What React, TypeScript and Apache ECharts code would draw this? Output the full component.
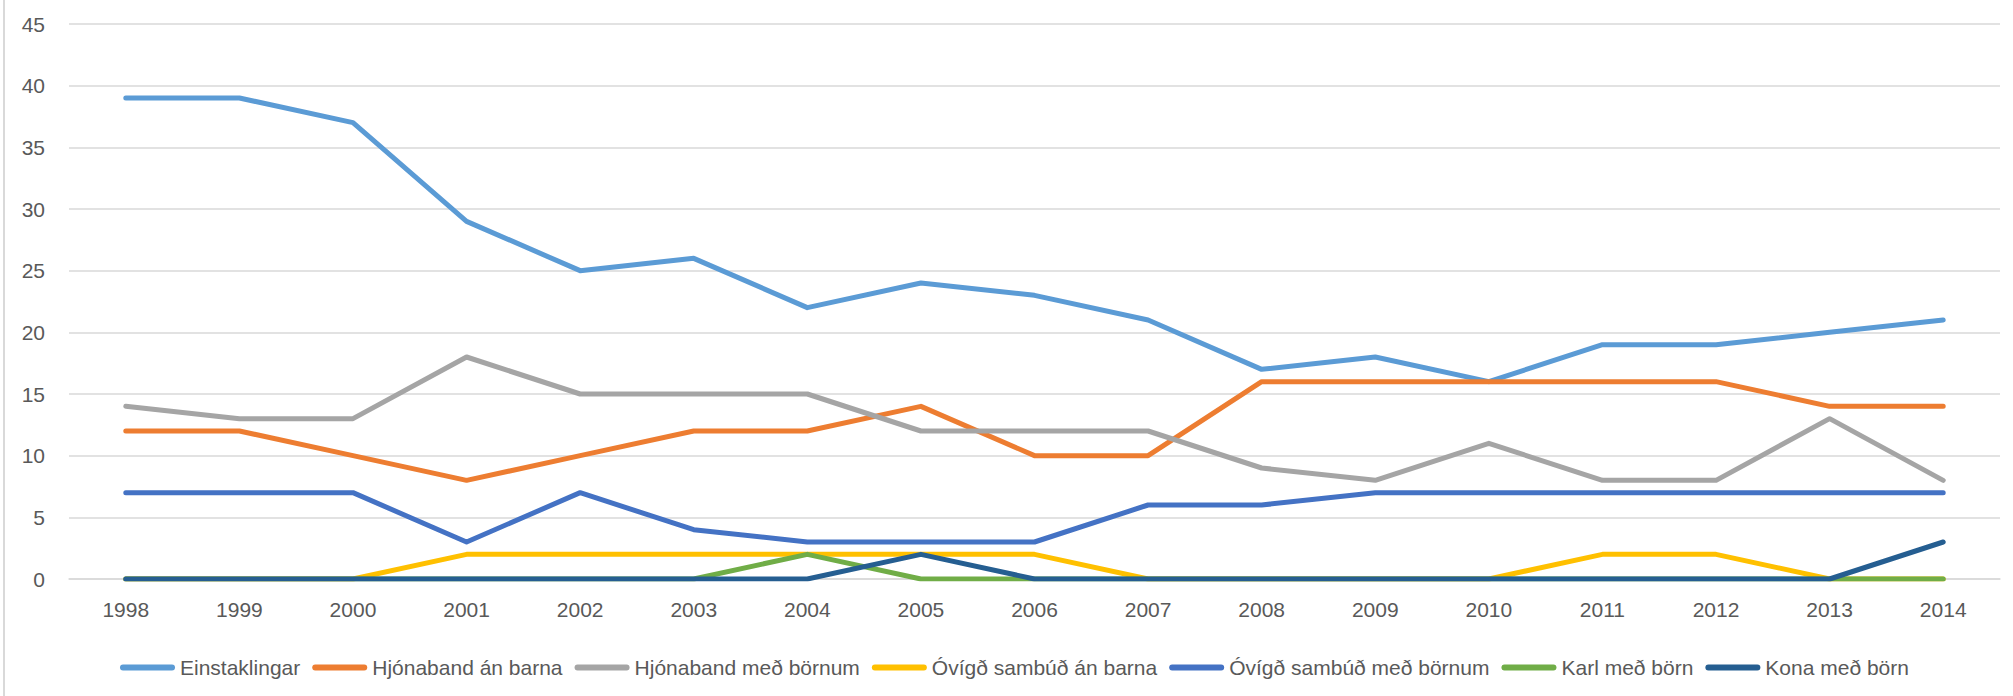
import React, { useEffect, useRef } from "react";
import * as echarts from "echarts";

const years = ["1998","1999","2000","2001","2002","2003","2004","2005","2006","2007","2008","2009","2010","2011","2012","2013","2014"];
const einstaklingar = [39,39,37,29,25,26,22,24,23,21,17,18,16,19,19,20,21];
const hjonabandAnBarna = [12,12,10,8,10,12,12,14,10,10,16,16,16,16,16,14,14];
const hjonabandMedBornum = [14,13,13,18,15,15,15,12,12,12,9,8,11,8,8,13,8];
const ovigdAnBarna = [0,0,0,2,2,2,2,2,2,0,0,0,0,2,2,0,0];
const ovigdMedBornum = [7,7,7,3,7,4,3,3,3,6,6,7,7,7,7,7,7];
const karlMedBorn = [0,0,0,0,0,0,2,0,0,0,0,0,0,0,0,0,0];
const konaMedBorn = [0,0,0,0,0,0,0,2,0,0,0,0,0,0,0,0,3];

const seriesDefs = [
  { name: "Einstaklingar", data: einstaklingar, color: "#5B9BD5" },
  { name: "Hjónaband án barna", data: hjonabandAnBarna, color: "#ED7D31" },
  { name: "Hjónaband með börnum", data: hjonabandMedBornum, color: "#A5A5A5" },
  { name: "Óvígð sambúð án barna", data: ovigdAnBarna, color: "#FFC000" },
  { name: "Óvígð sambúð með börnum", data: ovigdMedBornum, color: "#4472C4" },
  { name: "Karl með börn", data: karlMedBorn, color: "#70AD47" },
  { name: "Kona með börn", data: konaMedBorn, color: "#255E91" },
];

const FONT = "'Liberation Sans', Arial, sans-serif";
const LEGEND_ICON = "path://M3,0 L52,0 A3,3 0 0 1 52,6 L3,6 A3,3 0 0 1 3,0 Z";

export default function App() {
  const ref = useRef<HTMLDivElement>(null);
  useEffect(() => {
    document.body.style.margin = "0";
    if (!ref.current) return;
    const chart = echarts.init(ref.current, undefined, { renderer: "svg" });
    chart.setOption({
      animation: false,
      backgroundColor: "#ffffff",
      grid: { left: 69, right: 13, top: 24, bottom: 117, containLabel: false },
      graphic: [
        { type: "line", shape: { x1: 4, y1: 0, x2: 4, y2: 696 }, style: { stroke: "#D9D9D9", lineWidth: 2 } },
      ],
      legend: {
        top: 652,
        left: 115,
        itemWidth: 55,
        itemHeight: 20,
        itemGap: 12,
        textStyle: { fontFamily: FONT, fontSize: 21, color: "#595959" },
        data: seriesDefs.map((s) => ({ name: s.name, icon: LEGEND_ICON })),
      },
      xAxis: {
        type: "category",
        data: years,
        boundaryGap: true,
        axisLine: { show: true, lineStyle: { color: "#D9D9D9", width: 1.5 } },
        axisTick: { show: false },
        axisLabel: { fontFamily: FONT, fontSize: 21, color: "#595959", margin: 20 },
      },
      yAxis: {
        type: "value",
        min: 0,
        max: 45,
        interval: 5,
        axisLine: { show: false },
        axisTick: { show: false },
        axisLabel: { fontFamily: FONT, fontSize: 21, color: "#595959", margin: 24 },
        splitLine: { lineStyle: { color: "#D9D9D9", width: 1.5 } },
      },
      series: seriesDefs.map((s) => ({
        name: s.name,
        type: "line",
        data: s.data,
        symbol: "none",
        lineStyle: { color: s.color, width: 5, cap: "round", join: "round" },
        itemStyle: { color: s.color },
      })),
    });
    return () => chart.dispose();
  }, []);
  return <div ref={ref} style={{ width: 2013, height: 696 }} />;
}
